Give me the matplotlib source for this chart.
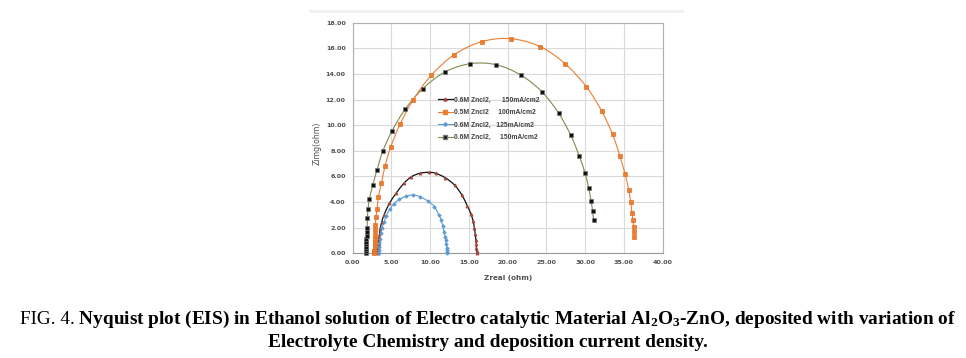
import numpy as np
import matplotlib
matplotlib.use('Agg')
import matplotlib.pyplot as plt
from matplotlib.path import Path
from matplotlib.patches import PathPatch
from matplotlib.lines import Line2D

# ---------------- data ----------------
# Series 1: 0.6M Zncl2, 150mA/cm2 (red triangles, black line)
s1_x = [3.30, 3.31, 3.32, 3.34, 3.37, 3.41, 3.47, 3.58, 3.75, 4.05, 4.74, 5.60, 6.60, 7.59,
        8.70, 9.80, 10.70, 11.94, 13.15, 14.10, 14.80, 15.25, 15.55, 15.72, 15.82, 15.90,
        15.95, 15.98, 16.00, 16.01]
s1_y = [0.05, 0.25, 0.45, 0.70, 0.95, 1.25, 1.60, 2.00, 2.45, 3.00, 3.90, 4.68, 5.46, 5.98,
        6.25, 6.32, 6.25, 5.90, 5.33, 4.55, 3.70, 3.10, 2.50, 1.95, 1.50, 1.05,
        0.70, 0.40, 0.15, 0.02]

# Series 2: 0.5M Zncl2 100mA/cm2 (orange squares)
s2_x = [2.80, 2.81, 2.82, 2.83, 2.84, 2.85, 2.87, 2.89, 2.91, 2.93, 3.00, 3.15, 3.32, 3.71,
        4.18, 4.91, 6.12, 7.80, 10.13, 13.06, 16.64, 20.43, 24.22, 27.46, 30.17, 32.15,
        33.55, 34.49, 35.17, 35.63, 35.90, 36.05, 36.18, 36.26, 36.30, 36.31]
s2_y = [0.05, 0.20, 0.35, 0.50, 0.70, 0.90, 1.15, 1.45, 1.80, 2.21, 2.86, 3.43, 4.42, 5.46,
        6.82, 8.30, 10.09, 11.97, 13.89, 15.48, 16.52, 16.75, 16.13, 14.78, 13.00, 11.10,
        9.29, 7.60, 6.17, 4.97, 3.97, 3.17, 2.60, 2.08, 1.64, 1.30]

# Series 3: 0.6M Zncl2, 125mA/cm2 (blue)
s3_x = [3.35, 3.36, 3.38, 3.42, 3.50, 3.62, 3.80, 4.05, 4.35, 4.80, 5.30, 6.00, 6.85, 7.75,
        8.70, 9.70, 10.56, 11.12, 11.42, 11.64, 11.80, 11.92, 12.02, 12.10, 12.15, 12.18,
        12.20, 12.21]
s3_y = [0.05, 0.25, 0.50, 0.80, 1.15, 1.55, 2.00, 2.45, 2.95, 3.45, 3.85, 4.20, 4.45, 4.55,
        4.42, 4.08, 3.64, 2.99, 2.60, 2.10, 1.65, 1.30, 1.00, 0.70, 0.45, 0.25,
        0.10, 0.02]

# Series 4: 0.6M Zncl2, 150mA/cm2 (black squares, olive line)
s4_x = [1.70, 1.71, 1.72, 1.73, 1.74, 1.76, 1.78, 1.80, 1.83, 1.86, 1.90, 1.98, 2.16, 2.59,
        3.15, 3.88, 5.09, 6.77, 9.05, 11.90, 15.17, 18.53, 21.77, 24.47, 26.60, 28.16,
        29.23, 30.01, 30.48, 30.79, 30.98, 31.11]
s4_y = [0.05, 0.20, 0.35, 0.50, 0.70, 0.90, 1.10, 1.35, 1.65, 2.00, 2.73, 3.43, 4.27, 5.31,
        6.53, 7.96, 9.57, 11.24, 12.85, 14.15, 14.80, 14.72, 13.89, 12.58, 10.93, 9.21,
        7.63, 6.24, 5.06, 4.05, 3.27, 2.62]

labels = ["0.6M Zncl2,      150mA/cm2",
          "0.5M Zncl2     100mA/cm2",
          "0.6M Zncl2,   125mA/cm2",
          "0.6M Zncl2,     150mA/cm2"]

x_ticks = [0, 5, 10, 15, 20, 25, 30, 35, 40]
y_ticks = [0, 2, 4, 6, 8, 10, 12, 14, 16, 18]
x_label = "Zreal (ohm)"
y_label = "Zimg(ohm)"

cap1_a = "FIG. 4."
cap1_b = " Nyquist plot (EIS) in Ethanol solution of Electro catalytic Material Al$_2$O$_3$-ZnO, deposited with variation of"
cap2 = "Electrolyte Chemistry and deposition current density."

# ---------------- styling ----------------
plt.rcParams['mathtext.fontset'] = 'custom'
plt.rcParams['mathtext.rm'] = 'Liberation Serif:bold'
plt.rcParams['mathtext.it'] = 'Liberation Serif:bold:italic'
plt.rcParams['mathtext.bf'] = 'Liberation Serif:bold'

W, H = 966, 358
fig = plt.figure(figsize=(W / 100, H / 100), dpi=100)
ax = fig.add_axes([352.7 / W, 1 - 253.3 / H, (662.5 - 352.7) / W, (253.3 - 22.7) / H])

def smooth_path(x, y):
    pts = np.column_stack([x, y]).astype(float)
    n = len(pts)
    verts = [pts[0]]
    codes = [Path.MOVETO]
    for i in range(n - 1):
        p0 = pts[max(i - 1, 0)]
        p1 = pts[i]
        p2 = pts[i + 1]
        p3 = pts[min(i + 2, n - 1)]
        verts += [p1 + (p2 - p0) / 6.0, p2 - (p3 - p1) / 6.0, p2]
        codes += [Path.CURVE4] * 3
    return Path(verts, codes)

series = [
    dict(x=s4_x, y=s4_y, lc='#7d8c4e', mfc='#111111', mec='#777777', m='s', ms=2.4, lw=0.8),
    dict(x=s2_x, y=s2_y, lc='#ED7D31', mfc='#ED7D31', mec='#E07020', m='s', ms=2.8, lw=0.8),
    dict(x=s1_x, y=s1_y, lc='#111111', mfc='#A5463A', mec='#A5463A', m='^', ms=2.2, lw=0.9),
    dict(x=s3_x, y=s3_y, lc='#5B9BD5', mfc='#5B9BD5', mec='#5B9BD5', m='D', ms=1.8, lw=0.8),
]
for s in series:
    ax.add_patch(PathPatch(smooth_path(s['x'], s['y']), fill=False,
                           edgecolor=s['lc'], lw=s['lw'], zorder=3))
    ax.plot(s['x'], s['y'], ls='none', marker=s['m'], ms=s['ms'], mfc=s['mfc'],
            mec=s['mec'], mew=0.5, zorder=4, clip_on=False)

ax.set_xlim(0, 40)
ax.set_ylim(0, 18)
ax.set_xticks(x_ticks)
ax.set_yticks(y_ticks)
ax.set_xticklabels([f"{v:.2f}" for v in x_ticks])
ax.set_yticklabels([f"{v:.2f}" for v in y_ticks])
ax.tick_params(length=0, labelsize=4.6, labelcolor='#505050', pad=5)
for lab in ax.get_xticklabels() + ax.get_yticklabels():
    lab.set_fontweight('bold')
ax.grid(True, color='#d9d9d9', lw=0.8)
ax.set_axisbelow(True)
for sp in ax.spines.values():
    sp.set_color('#b0b0b0')
    sp.set_linewidth(0.8)
ax.spines['bottom'].set_color('#999999')

# legend
handles = [
    Line2D([], [], color='#111111', lw=0.9, marker='^', ms=2.2, mfc='#A5463A', mec='#A5463A'),
    Line2D([], [], color='#ED7D31', lw=0.8, marker='s', ms=2.4, mfc='#ED7D31', mec='#ED7D31'),
    Line2D([], [], color='#5B9BD5', lw=0.8, marker='D', ms=1.8, mfc='#5B9BD5', mec='#5B9BD5'),
    Line2D([], [], color='#7d8c4e', lw=0.8, marker='s', ms=2.2, mfc='#111111', mec='#777777'),
]
leg = ax.legend(handles, labels, loc='upper left', bbox_to_anchor=(0.275, 0.68),
                frameon=False, handlelength=2.2, handletextpad=0.2,
                labelspacing=0.82, borderpad=0, borderaxespad=0,
                prop={'family': 'Liberation Sans', 'weight': 'bold', 'size': 4.9})
for t in leg.get_texts():
    t.set_color('#404040')

fig.text(508 / W, 1 - 278 / H, x_label, ha='center', va='center', fontsize=5.2,
         fontweight='bold', color='#505050')
fig.text(317 / W, 1 - 143 / H, y_label, ha='center', va='center', fontsize=5.6,
         rotation=90, color='#505050')

# faint chart-area top edge
fig.add_artist(Line2D([310 / W, 682 / W], [1 - 11 / H] * 2, color='#f0f0f0', lw=2))

# caption
renderer = fig.canvas.get_renderer()
def centered_line(pieces, y_px, size, cx=488):
    texts = []
    for s, w in pieces:
        texts.append(fig.text(0, 1 - y_px / H, s, fontsize=size, fontweight=w,
                              family='Liberation Serif', ha='left', va='baseline',
                              color='black'))
    widths = [t.get_window_extent(renderer).width for t in texts]
    x0 = cx - sum(widths) / 2
    for t, wd in zip(texts, widths):
        t.set_x(x0 / W)
        x0 += wd

centered_line([(cap1_a, 'normal'), (cap1_b, 'bold')], 324, 13.85)
centered_line([(cap2, 'bold')], 347, 13.85)

fig.savefig('out.png', dpi=100)
